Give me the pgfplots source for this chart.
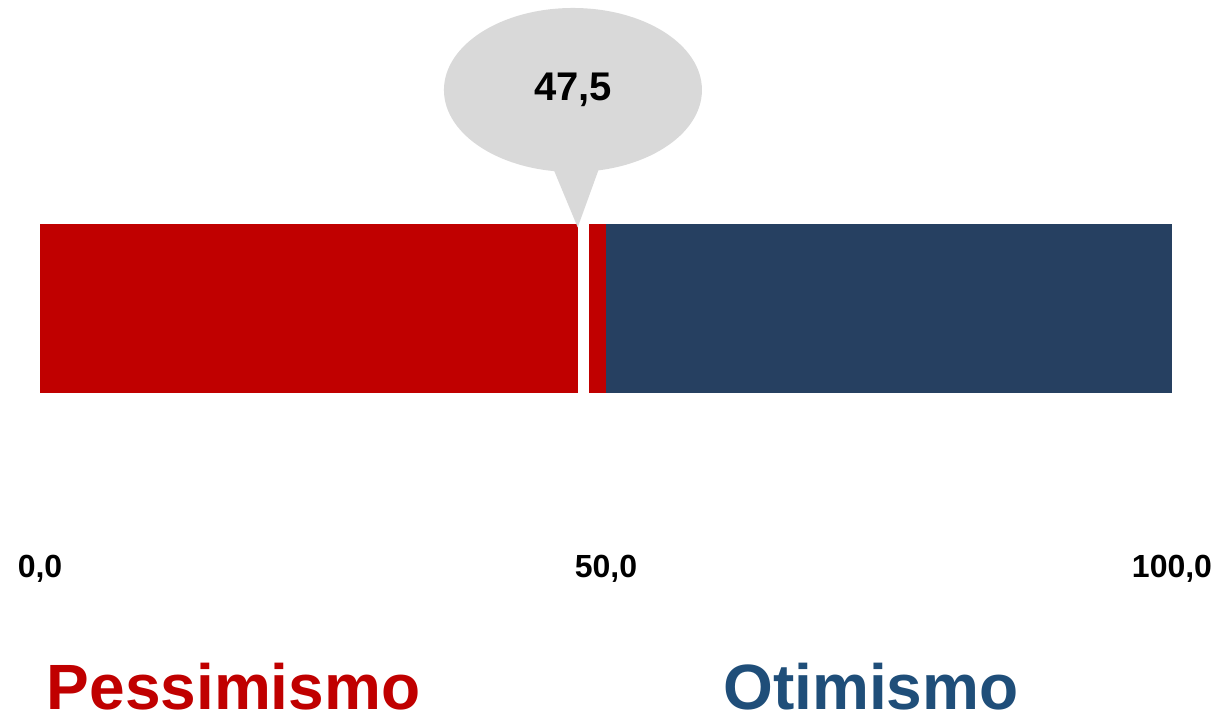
\documentclass[border=0pt]{standalone}
\usepackage{fontspec}
\setmainfont{Liberation Sans}
\usepackage{pgfplots}
\pgfplotsset{compat=1.18}
\definecolor{pessred}{HTML}{C00000}
\definecolor{otinavy}{HTML}{264061}
\definecolor{otitext}{HTML}{1F4E79}
\definecolor{bubble}{HTML}{D9D9D9}
\begin{document}
\begin{tikzpicture}
\useasboundingbox (0,0) rectangle (610pt,361.5pt);
\begin{axis}[
    at={(20pt,165pt)}, anchor=south west,
    scale only axis, width=566pt, height=84.5pt,
    xmin=0, xmax=100, ymin=0, ymax=1,
    clip=false,
    axis line style={draw=none},
    major tick length=0pt,
    ymajorticks=false,
    xtick={0,50,100},
    xticklabels={{0,0},{50,0},{100,0}},
    xticklabel style={anchor=base, yshift=-92pt, font=\fontsize{16}{18}\selectfont\bfseries},
    /pgf/number format/assume math mode=true,
]
% escala 0-100: pessimismo ate 50, otimismo de 50 a 100
\addplot[fill=pessred, draw=none] coordinates {(0,0) (50,0) (50,1) (0,1)} -- cycle;
\addplot[fill=otinavy, draw=none] coordinates {(50,0) (100,0) (100,1) (50,1)} -- cycle;
% marcador do indice 47,5
\addplot[fill=white, draw=none] coordinates {(47.5,-0.01) (48.5,-0.01) (48.5,1.01) (47.5,1.01)} -- cycle;

\fill[bubble] (axis cs:47.08,1.793) ellipse [x radius=64.5pt, y radius=41pt];
\fill[bubble] (axis cs:45.2,1.35) -- (axis cs:47.5,0.98) -- (axis cs:49.5,1.35) -- cycle;
\node[font=\fontsize{20}{24}\selectfont\bfseries] at (axis cs:47.08,1.793) {47,5};

\node[anchor=base, inner sep=0pt, text=pessred, font=\fontsize{32}{38}\selectfont\bfseries] at (axis cs:17.1,-1.87) {Pessimismo};
\node[anchor=base, inner sep=0pt, text=otitext, font=\fontsize{32}{38}\selectfont\bfseries] at (axis cs:73.4,-1.87) {Otimismo};
\end{axis}
\end{tikzpicture}
\end{document}
